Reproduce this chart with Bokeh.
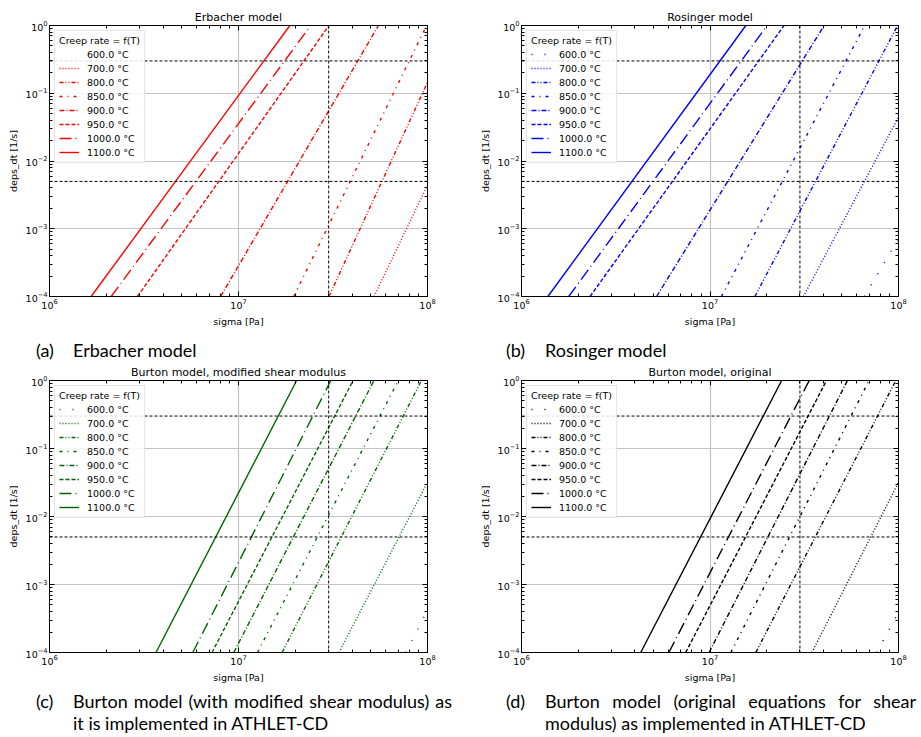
from bokeh.plotting import figure
from bokeh.models import (Range1d, LogAxis, LogTicker, Span, Legend, LegendItem, Div,
                          CustomJSTickFormatter)
from bokeh.layouts import column, row
from bokeh.embed import file_html
from bokeh.resources import INLINE

# ---------------- data ----------------
temps = ["600.0 °C", "700.0 °C", "800.0 °C", "850.0 °C",
         "900.0 °C", "950.0 °C", "1000.0 °C", "1100.0 °C"]
dashes = ["1 12", "1 2", "4 2 1 2 1 2", "3 5 1 5", "5 2 1 2", "4 2", "12 4 1 4", "solid"]

erbacher_sigma = [[], [5.21e7, 1e8], [3.01e7, 1e8], [1.96e7, 9.9e7],
                  [8.04e6, 5.50e7], [2.92e6, 3.01e7], [2.12e6, 2.41e7], [1.66e6, 1.87e7]]
erbacher_eps = [[], [1e-4, 4.4e-3], [1e-4, 0.145], [1e-4, 1.0],
                [1e-4, 1.0], [1e-4, 1.0], [1e-4, 1.0], [1e-4, 1.0]]

rosinger_sigma = [[6.6e7, 1e8], [3.13e7, 1e8], [1.73e7, 9.89e7], [1.15e7, 6.62e7],
                  [5.21e6, 4.03e7], [2.31e6, 2.47e7], [1.78e6, 2.01e7], [1.38e6, 1.55e7]]
rosinger_eps = [[1e-4, 7.2e-4], [1e-4, 0.0444], [1e-4, 1.0], [1e-4, 1.0],
                [1e-4, 1.0], [1e-4, 1.0], [1e-4, 1.0], [1e-4, 1.0]]

burton_mod_sigma = [[7.67e7, 1e8], [3.40e7, 1e8], [1.70e7, 9.29e7], [1.26e7, 7.01e7],
                    [9.44e6, 5.21e7], [7.24e6, 4.04e7], [5.73e6, 3.08e7], [3.66e6, 2.03e7]]
burton_mod_eps = [[1e-4, 4.2e-4], [1e-4, 0.0318], [1e-4, 1.0], [1e-4, 1.0],
                  [1e-4, 1.0], [1e-4, 1.0], [1e-4, 1.0], [1e-4, 1.0]]

burton_orig_sigma = [[7.66e7, 1e8], [3.47e7, 1e8], [1.75e7, 9.68e7], [1.29e7, 6.98e7],
                     [9.89e6, 5.36e7], [7.43e6, 4.15e7], [6.05e6, 3.36e7], [4.29e6, 2.40e7]]
burton_orig_eps = [[1e-4, 3.9e-4], [1e-4, 0.0318], [1e-4, 1.0], [1e-4, 1.0],
                   [1e-4, 1.0], [1e-4, 1.0], [1e-4, 1.0], [1e-4, 1.0]]

ref_eps = [0.3, 0.005]
ref_sigma = [3e7]

FONT = "DejaVu Sans"


def style_axis(ax, labels=True):
    ax.ticker = LogTicker(num_minor_ticks=10)
    ax.major_tick_in = 5
    ax.major_tick_out = 0
    ax.minor_tick_in = 3
    ax.minor_tick_out = 0
    ax.axis_line_color = "black"
    ax.major_tick_line_color = "black"
    ax.minor_tick_line_color = "black"
    ax.major_label_text_color = "black"
    ax.major_label_text_font = FONT
    ax.major_label_text_font_size = "9.5px"
    ax.major_label_standoff = 2
    if not labels:
        ax.formatter = CustomJSTickFormatter(code="return ''")
        ax.major_label_standoff = 0
    ax.axis_label_text_font = FONT
    ax.axis_label_text_font_size = "9.5px"
    ax.axis_label_text_font_style = "normal"
    ax.axis_label_text_color = "black"
    ax.axis_label_standoff = 4


def panel(title, color, sig, eps, width, height, bl, br, bt, bb):
    p = figure(width=width, height=height,
               x_axis_type="log", y_axis_type="log",
               x_range=Range1d(1e6, 1e8), y_range=Range1d(1e-4, 1.0),
               output_backend="svg", toolbar_location=None,
               min_border_left=bl, min_border_right=br,
               min_border_top=bt, min_border_bottom=bb,
               title=title)
    p.title.text_font = FONT
    p.title.text_font_size = "11px"
    p.title.text_font_style = "normal"
    p.title.text_color = "black"
    p.title.align = "center"
    p.title.standoff = 4
    p.outline_line_color = "black"
    p.outline_line_width = 1
    p.xaxis.axis_label = "sigma [Pa]"
    p.yaxis.axis_label = "deps_dt [1/s]"
    style_axis(p.xaxis[0])
    style_axis(p.yaxis[0])
    top = LogAxis()
    style_axis(top, labels=False)
    right = LogAxis()
    style_axis(right, labels=False)
    p.add_layout(top, "above")
    p.add_layout(right, "right")
    for g in (p.xgrid[0], p.ygrid[0]):
        g.grid_line_color = "#c4c4c4"
        g.grid_line_width = 1.2
        g.minor_grid_line_color = None
        g.ticker = LogTicker(num_minor_ticks=10)

    for e in ref_eps:
        p.add_layout(Span(location=e, dimension="width", line_color="black",
                          line_dash="3 2", line_width=1))
    for s in ref_sigma:
        p.add_layout(Span(location=s, dimension="height", line_color="black",
                          line_dash="3 2", line_width=1))

    items = []
    for t, d, xs, ys in zip(temps, dashes, sig, eps):
        r = p.line(xs, ys, line_color=color, line_width=1.4, line_dash=d)
        items.append(LegendItem(label=t, renderers=[r]))
    leg = Legend(items=items, location="top_left", title="Creep rate = f(T)")
    leg.title_text_font = FONT
    leg.title_text_font_size = "9.5px"
    leg.title_text_font_style = "normal"
    leg.title_text_color = "black"
    leg.title_standoff = 2
    leg.label_text_font = FONT
    leg.label_text_font_size = "9.5px"
    leg.label_text_color = "black"
    leg.label_height = 12
    leg.glyph_height = 12
    leg.glyph_width = 20
    leg.label_standoff = 8
    leg.spacing = 2
    leg.padding = 4
    leg.margin = 5
    leg.border_line_color = "#cccccc"
    leg.background_fill_alpha = 0.85
    p.add_layout(leg, "center")
    return p


def caption(tag, text, width, height, pad_left, label_w, text_w, pad_top):
    html = (f'<div style="display:flex;font-family:Lato,\'Open Sans\',sans-serif;'
            f'font-size:18px;line-height:22px;color:#000;padding-left:{pad_left}px;'
            f'padding-top:{pad_top}px;">'
            f'<div style="width:{label_w}px;flex:none;">{tag}</div>'
            f'<div style="width:{text_w}px;flex:none;text-align:justify;">{text}</div></div>')
    return Div(text=html, width=width, height=height, margin=(0, 0, 0, 0),
               styles={"overflow": "hidden"})


pa = panel("Erbacher model", "red", erbacher_sigma, erbacher_eps,
           460, 330, 49, 33, 25, 34)
pb = panel("Rosinger model", "blue", rosinger_sigma, rosinger_eps,
           460, 330, 61, 22, 25, 34)
pc = panel("Burton model, modified shear modulus", "darkgreen", burton_mod_sigma, burton_mod_eps,
           460, 325, 49, 33, 20, 33)
pd = panel("Burton model, original", "black", burton_orig_sigma, burton_orig_eps,
           460, 325, 61, 22, 20, 33)

ca = caption("(a)", "Erbacher model", 460, 30, 36, 37, 373, 9)
cb = caption("(b)", "Rosinger model", 460, 30, 46, 39, 371, 9)
cc = caption("(c)", "Burton model (with modified shear modulus) as it is implemented in ATHLET-CD",
             460, 51, 36, 37, 379, 5)
cd = caption("(d)", "Burton model (original equations for shear modulus) as implemented in ATHLET-CD",
             460, 51, 46, 39, 371, 5)

layout = column(row(pa, pb), row(ca, cb), row(pc, pd), row(cc, cd))
open("out.html", "w").write(file_html(layout, INLINE))
